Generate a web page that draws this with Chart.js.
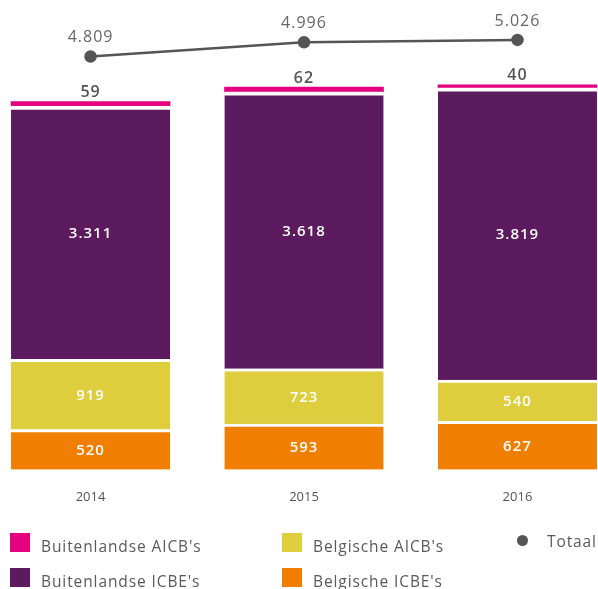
<!DOCTYPE html>
<html>
<head>
<meta charset="utf-8">
<script src="https://cdn.jsdelivr.net/npm/chart.js@4"></script>
<style>
  body { margin: 0; background: #fff; font-family: "Open Sans", sans-serif; }
  #wrap { position: absolute; left: 0; top: 0; width: 598px; height: 517px; }
  #legend { position: absolute; left: 0; top: 0; width: 598px; height: 589px; pointer-events: none; }
  .item { position: absolute; display: flex; align-items: center; color: #5a5a5a; font-size: 15.5px; letter-spacing: 0.9px; white-space: nowrap; }
  .box { width: 20px; height: 19px; margin-right: 11px; }
  .dot { width: 11px; height: 11px; border-radius: 50%; margin: 0 19px 0 3px; }
</style>
</head>
<body>
<div id="wrap"><canvas id="chart"></canvas></div>
<div id="legend"></div>
<script>
// gegevens
const jaren = ['2014', '2015', '2016'];
const belgischeICBE = [520, 593, 627];
const belgischeAICB = [919, 723, 540];
const buitenlandseICBE = [3311, 3618, 3819];
const buitenlandseAICB = [59, 62, 40];
const totaal = [4809, 4996, 5026];

const kleuren = {
    roze: '#E5007D',
    paars: '#5C1A5F',
    geel: '#DECD3C',
    oranje: '#F07E00',
    grijs: '#555555'
};

function fmt(n) {
    return String(n).replace(/\B(?=(\d{3})+(?!\d))/g, '.');
}

function punten(arr) {
    return arr.map((v, i) => ({ x: i, y: v }));
}

const labelPlugin = {
    id: 'labels',
    afterDatasetsDraw(chart) {
        const ctx = chart.ctx;
        ctx.save();
        ctx.textAlign = 'center';
        ctx.textBaseline = 'middle';
        ctx.letterSpacing = '1px';
        chart.data.datasets.forEach((ds, di) => {
            const meta = chart.getDatasetMeta(di);
            meta.data.forEach((el, i) => {
                const v = ds.data[i].y;
                if (ds.type === 'line') {
                    ctx.fillStyle = '#666';
                    ctx.font = '400 16px "Open Sans"';
                    ctx.fillText(fmt(v), el.x, el.y - 19);
                } else if (ds.labelBoven) {
                    ctx.fillStyle = '#555';
                    ctx.font = '600 16px "Open Sans"';
                    ctx.fillText(fmt(v), el.x, el.y - 9);
                } else {
                    ctx.fillStyle = '#fff';
                    ctx.font = '600 15px "Open Sans"';
                    ctx.fillText(fmt(v), el.x, (el.y + el.base) / 2 + 1);
                }
            });
        });
        ctx.restore();
    }
};

const datasets = [
    {
        type: 'line',
        label: 'Totaal',
        data: punten(totaal),
        yAxisID: 'y2',
        borderColor: kleuren.grijs,
        backgroundColor: kleuren.grijs,
        borderWidth: 2.5,
        pointRadius: 5,
        pointBackgroundColor: kleuren.grijs,
        tension: 0,
        clip: false
    },
    {
        label: "Belgische ICBE's",
        data: punten(belgischeICBE),
        backgroundColor: kleuren.oranje,
        borderColor: '#fff',
        borderWidth: { top: 3, bottom: 0, left: 0, right: 0 },
        borderSkipped: false
    },
    {
        label: "Belgische AICB's",
        data: punten(belgischeAICB),
        backgroundColor: kleuren.geel,
        borderColor: '#fff',
        borderWidth: { top: 3, bottom: 0, left: 0, right: 0 },
        borderSkipped: false
    },
    {
        label: "Buitenlandse ICBE's",
        data: punten(buitenlandseICBE),
        backgroundColor: kleuren.paars,
        borderColor: '#fff',
        borderWidth: { top: 4, bottom: 0, left: 0, right: 0 },
        borderSkipped: false
    },
    {
        label: "Buitenlandse AICB's",
        data: punten(buitenlandseAICB),
        backgroundColor: kleuren.roze,
        borderWidth: 0,
        labelBoven: true
    }
];

datasets.forEach(ds => {
    if (!ds.type) {
        ds.type = 'bar';
        ds.yAxisID = 'y';
        ds.barThickness = 159;
        ds.clip = false;
    }
});

new Chart(document.getElementById('chart').getContext('2d'), {
    data: { datasets: datasets },
    options: {
        responsive: true,
        maintainAspectRatio: false,
        animation: false,
        layout: { padding: 0 },
        plugins: {
            legend: { display: false },
            tooltip: { enabled: false }
        },
        scales: {
            x: {
                type: 'linear',
                offset: false,
                min: -0.368,
                max: 2.321,
                stacked: true,
                grid: { display: false },
                border: { display: false },
                ticks: {
                    stepSize: 1,
                    padding: 12,
                    color: '#555',
                    font: { family: 'Open Sans', size: 13 },
                    callback: v => (Number.isInteger(v) && jaren[v]) ? jaren[v] : ''
                }
            },
            y: {
                stacked: true,
                display: false,
                min: 0,
                max: 6037
            },
            y2: {
                display: false,
                min: -587,
                max: 5450
            }
        }
    },
    plugins: [labelPlugin]
});

// legenda
const legenda = [
    { tekst: "Buitenlandse AICB's", kleur: kleuren.roze, x: 10, y: 533 },
    { tekst: "Buitenlandse ICBE's", kleur: kleuren.paars, x: 10, y: 568 },
    { tekst: "Belgische AICB's", kleur: kleuren.geel, x: 282, y: 533 },
    { tekst: "Belgische ICBE's", kleur: kleuren.oranje, x: 282, y: 568 },
    { tekst: 'Totaal', kleur: kleuren.grijs, x: 514, y: 531, rond: true }
];
const legendEl = document.getElementById('legend');
legenda.forEach(l => {
    const item = document.createElement('div');
    item.className = 'item';
    item.style.left = l.x + 'px';
    item.style.top = l.y + 'px';
    item.style.height = '19px';
    const m = document.createElement('span');
    m.className = l.rond ? 'dot' : 'box';
    m.style.background = l.kleur;
    const t = document.createElement('span');
    t.textContent = l.tekst;
    if (!l.rond) t.style.marginTop = '6px';
    item.appendChild(m);
    item.appendChild(t);
    legendEl.appendChild(item);
});
</script>
</body>
</html>
